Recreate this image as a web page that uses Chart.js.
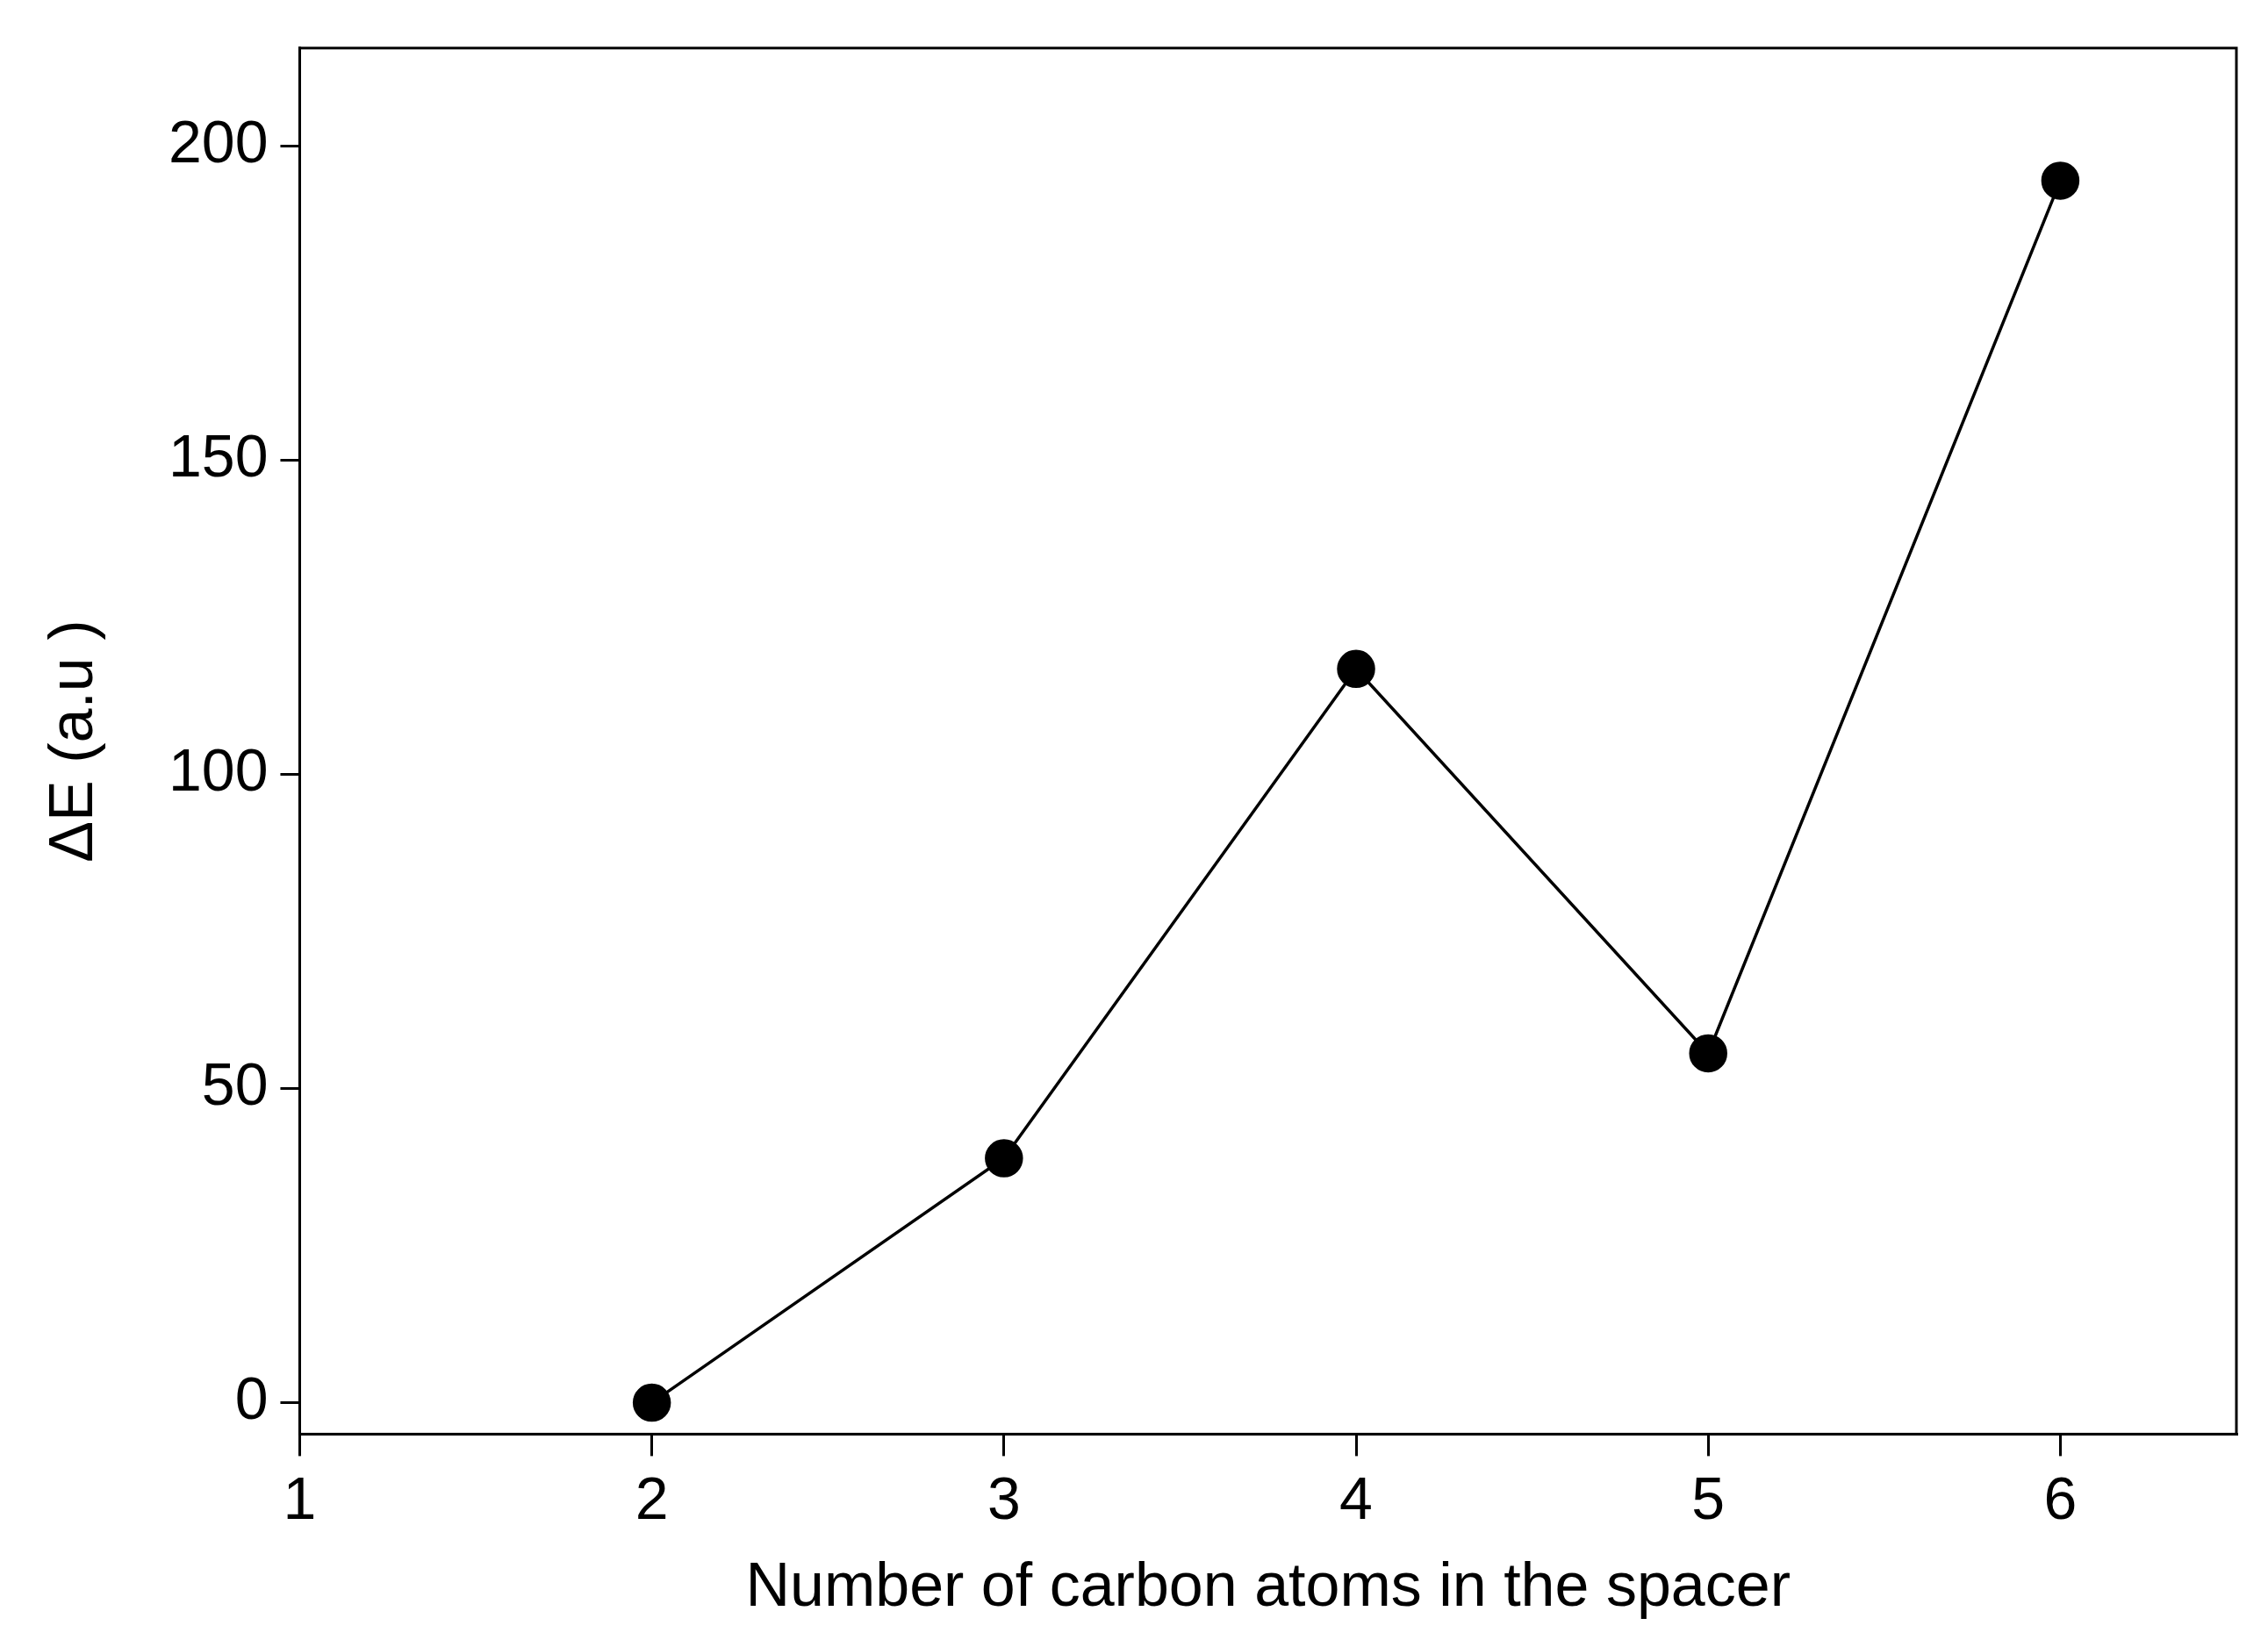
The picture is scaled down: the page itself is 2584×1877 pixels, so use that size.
<!DOCTYPE html>
<html>
<head>
<meta charset="utf-8">
<script src="https://cdn.jsdelivr.net/npm/chart.js@4"></script>
<style>
  html, body { margin: 0; padding: 0; background: #fff; }
  #wrap { width: 2584px; height: 1877px; }
</style>
</head>
<body>
<div id="wrap"><canvas id="c"></canvas></div>
<script>
const carbonAtoms = [2, 3, 4, 5, 6];
const deltaE = [0, 38.9, 116.8, 55.6, 194.5];
const xTicks = [1, 2, 3, 4, 5, 6];
const yTicks = [0, 50, 100, 150, 200];

// closes the box on the top and right sides
const frame = {
    id: 'frame',
    afterDraw(chart) {
        const { ctx, chartArea: a } = chart;
        ctx.save();
        ctx.strokeStyle = '#000';
        ctx.lineWidth = 3;
        ctx.strokeRect(a.left, a.top, a.right - a.left, a.bottom - a.top);
        ctx.restore();
    }
};

const font = { family: 'Arial, "Liberation Sans", sans-serif', size: 68 };

new Chart(document.getElementById('c').getContext('2d'), {
    type: 'scatter',
    data: {
        datasets: [{
            data: carbonAtoms.map((x, i) => ({ x, y: deltaE[i] })),
            showLine: true,
            borderColor: '#000',
            borderWidth: 3.5,
            pointRadius: 20,
            pointHoverRadius: 20,
            pointBackgroundColor: '#000',
            pointBorderColor: '#000'
        }]
    },
    options: {
        responsive: true,
        maintainAspectRatio: false,
        animation: false,
        layout: { padding: { top: 15, right: 36, left: 40, bottom: 20 } },
        plugins: { legend: { display: false }, tooltip: { enabled: false } },
        scales: {
            x: {
                type: 'linear',
                min: 1,
                max: 6.5,
                afterBuildTicks: s => { s.ticks = xTicks.map(v => ({ value: v })); },
                grid: { drawOnChartArea: false, tickLength: 25, color: '#000', lineWidth: 3 },
                border: { color: '#000', width: 3 },
                ticks: { color: '#000', font, padding: 12 },
                title: { display: true, text: 'Number of carbon atoms in the spacer', color: '#000', font: { ...font, size: 70 }, padding: { top: 4 } }
            },
            y: {
                min: -5,
                max: 215.6,
                afterBuildTicks: s => { s.ticks = yTicks.map(v => ({ value: v })); },
                grid: { drawOnChartArea: false, tickLength: 22, color: '#000', lineWidth: 3 },
                border: { color: '#000', width: 3 },
                ticks: { color: '#000', font, padding: 14 },
                title: { display: true, text: 'ΔE (a.u )', color: '#000', font: { ...font, size: 70 }, padding: { bottom: 50 } }
            }
        }
    },
    plugins: [frame]
});
</script>
</body>
</html>
